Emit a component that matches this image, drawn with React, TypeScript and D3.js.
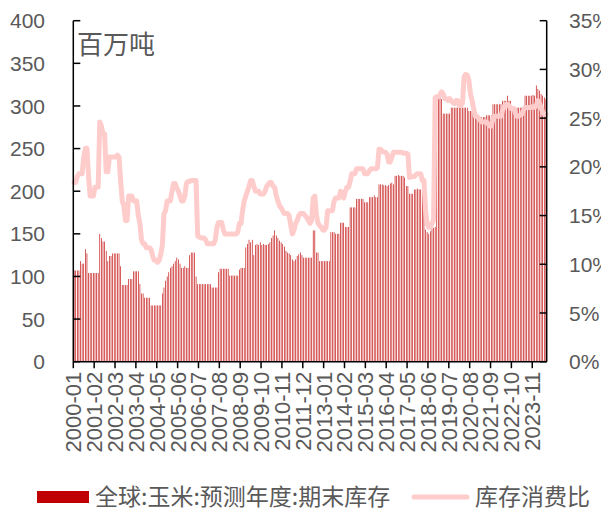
import React from 'react';
import * as d3 from 'd3';

// 全球:玉米:预测年度:期末库存 (百万吨), monthly 2000-01 .. 2024-07
const stockValues: number[] = [
  // 2000
  107,107,107,107,118,115,115,132,127,104,104,104,
  // 2001
  104,104,104,104,150,145,141,141,130,118,124,124,
  // 2002
  127,127,127,127,127,112,90,90,90,90,97,97,
  // 2003
  97,106,106,106,106,91,80,80,75,75,75,75,
  // 2004
  66,66,66,66,66,66,66,80,87,95,100,105,
  // 2005
  110,112,115,118,122,120,115,110,110,112,110,110,
  // 2006
  125,128,128,128,100,91,91,91,91,91,91,91,
  // 2007
  91,91,87,87,87,87,105,109,109,109,109,109,
  // 2008
  109,101,101,101,101,101,101,108,110,110,110,134,
  // 2009
  138,143,140,143,125,137,138,137,140,137,138,137,
  // 2010
  137,138,140,145,148,154,148,145,142,140,138,135,
  // 2011
  130,128,127,125,120,118,120,124,126,128,125,122,
  // 2012
  122,122,122,122,122,154,154,128,128,118,118,118,
  // 2013
  118,118,118,118,152,152,152,150,150,150,163,163,
  // 2014
  163,158,158,158,181,181,181,181,191,191,191,191,
  // 2015
  191,187,187,187,193,193,193,195,193,193,208,208,
  // 2016
  208,207,207,206,207,209,210,208,218,218,219,218,
  // 2017
  218,218,216,206,206,197,197,197,202,202,203,202,
  // 2018
  202,203,202,155,152,150,153,156,157,158,310,308,
  // 2019
  310,308,291,291,291,291,291,298,298,298,298,298,
  // 2020
  298,298,298,298,298,298,294,294,294,287,287,287,
  // 2021
  287,287,287,287,287,289,289,289,289,302,302,302,
  // 2022
  302,302,302,306,306,306,312,306,306,298,298,298,
  // 2023
  298,298,298,298,298,312,312,312,312,312,313,312,
  // 2024
  324,320,318,314,312,310,308,
];

// 库存消费比 (%)
const ratioValues: number[] = [
  // 2000
  18.4,18.4,19.0,19.3,19.3,19.3,21.0,21.9,21.9,19.0,17.0,17.0,
  // 2001
  17.0,17.9,17.9,17.9,24.6,24.2,23.4,23.4,19.5,19.5,21.0,21.0,
  // 2002
  21.0,21.0,21.0,21.2,21.0,18.6,16.5,16.0,14.5,14.5,17.0,17.0,
  // 2003
  17.0,16.5,16.5,16.5,15.0,14.2,12.5,12.1,12.1,11.7,11.7,11.7,
  // 2004
  11.5,10.8,10.4,10.4,10.2,10.4,11.0,12.0,15.2,15.5,16.5,16.5,
  // 2005
  16.5,17.5,18.3,18.3,17.8,17.5,17.0,16.5,16.5,17.0,18.3,18.5,
  // 2006
  18.5,18.6,18.6,18.6,18.6,12.9,12.8,12.7,12.7,12.7,12.5,12.1,
  // 2007
  12.1,12.1,12.1,12.1,12.5,13.8,14.3,14.3,14.3,13.5,13.1,13.1,
  // 2008
  13.1,13.1,13.1,13.1,13.1,13.1,13.3,14.2,14.2,15.5,16.5,17.0,
  // 2009
  17.5,18.0,18.6,18.6,18.0,17.5,17.5,17.5,17.2,17.2,17.2,17.5,
  // 2010
  18.0,18.2,18.4,18.4,18.0,17.9,17.0,16.5,16.0,15.8,15.5,15.2,
  // 2011
  15.2,15.2,15.0,14.0,13.1,13.5,14.2,14.5,15.0,15.2,15.2,15.2,
  // 2012
  15.0,14.8,14.5,14.2,14.5,16.8,17.0,15.0,14.2,14.0,13.8,13.5,
  // 2013
  13.5,13.8,15.5,15.5,15.5,15.5,16.5,16.8,16.8,16.8,17.5,17.2,
  // 2014
  16.8,17.5,17.9,17.9,18.5,19.3,19.3,19.3,19.8,19.8,19.8,19.8,
  // 2015
  19.8,19.3,19.3,19.3,19.6,19.8,19.8,19.8,19.8,19.9,21.8,21.8,
  // 2016
  21.6,21.5,21.5,21.3,20.5,20.5,21.0,21.5,21.5,21.5,21.5,21.5,
  // 2017
  21.5,21.4,21.4,21.4,21.3,18.9,19.0,19.0,19.0,19.2,19.3,19.3,
  // 2018
  19.3,18.6,18.6,15.5,14.2,13.8,13.8,14.2,14.5,27.1,27.2,27.2,
  // 2019
  27.4,27.7,27.5,27.0,27.0,26.8,27.0,26.8,26.6,26.5,26.8,26.8,
  // 2020
  26.3,26.3,26.5,29.2,29.5,29.4,28.9,27.5,26.8,26.0,25.2,25.2,
  // 2021
  25.0,24.8,24.6,24.6,24.6,24.6,24.4,24.2,24.2,25.0,25.2,25.2,
  // 2022
  25.2,25.2,25.2,25.8,26.2,26.4,26.4,26.3,26.0,26.0,26.0,25.5,
  // 2023
  25.2,25.2,25.3,25.4,25.8,26.1,26.1,26.1,26.1,26.1,26.2,26.1,
  // 2024
  26.3,26.8,26.5,26.1,25.6,25.4,25.4,
];

const leftTicks = [0, 50, 100, 150, 200, 250, 300, 350, 400];
const rightTicks = [0, 5, 10, 15, 20, 25, 30, 35];
const labelEvery = 13;

const months: string[] = stockValues.map((_, i) => {
  const y = 2000 + Math.floor(i / 12);
  const m = (i % 12) + 1;
  return `${y}-${m < 10 ? '0' + m : m}`;
});

const W = 601;
const H = 508;
const X0 = 73.3;
const X1 = 546.7;
const YT = 20.7;
const YB = 361.7;

const BAR_COLOR = '#C00000';
const LINE_COLOR = '#FFCCCC';
const TEXT_COLOR = '#595959';
const FONT = '"Liberation Sans", "Noto Sans CJK SC", sans-serif';
const CJK = '"Noto Sans CJK SC", sans-serif';

export default function App() {
  const xs = d3.scaleBand<string>().domain(months).range([X0, X1]).padding(0);
  const bw = xs.bandwidth();
  const yL = d3.scaleLinear().domain([0, 400]).range([YB, YT]);
  const yR = d3.scaleLinear().domain([0, 35]).range([YB, YT]);

  const line = d3
    .line<number>()
    .x((_, i) => (xs(months[i]) as number) + bw / 2)
    .y((d) => yR(d));

  const tickIdx = months.map((_, i) => i).filter((i) => i % labelEvery === 0);

  return (
    <svg
      width={W}
      height={H}
      style={{ position: 'absolute', left: 0, top: 0, background: '#fff' }}
    >
      {/* bars */}
      <g>
        {stockValues.map((v, i) => (
          <rect
            key={i}
            x={(xs(months[i]) as number) + bw * 0.3}
            width={bw * 0.4}
            y={yL(v)}
            height={YB - yL(v)}
            fill={BAR_COLOR}
          />
        ))}
      </g>
      {/* line */}
      <path
        d={line(ratioValues) || ''}
        fill="none"
        stroke={LINE_COLOR}
        strokeWidth={5}
        strokeLinejoin="round"
        strokeLinecap="round"
      />
      {/* axes */}
      <g stroke="#000" strokeWidth={1.5} fill="none">
        <line x1={X0} x2={X0} y1={YT} y2={YB} />
        {leftTicks.map((t) => (
          <line key={t} x1={X0} x2={X0 + 7} y1={yL(t)} y2={yL(t)} />
        ))}
        <line x1={X1} x2={X1} y1={YT} y2={YB} />
        {rightTicks.map((t) => (
          <line key={t} x1={X1 - 7} x2={X1} y1={yR(t)} y2={yR(t)} />
        ))}
        <line x1={X0} x2={X1} y1={YB} y2={YB} />
        {tickIdx.map((i) => (
          <line
            key={i}
            x1={xs(months[i]) as number}
            x2={xs(months[i]) as number}
            y1={YB}
            y2={YB + 6.5}
          />
        ))}
      </g>
      {/* left tick labels */}
      <g fill={TEXT_COLOR} fontFamily={FONT} fontSize={21}>
        {leftTicks.map((t) => (
          <text key={t} x={45} y={yL(t)} dy="0.36em" textAnchor="end">
            {t}
          </text>
        ))}
        {rightTicks.map((t) => (
          <text key={t} x={569} y={yR(t)} dy="0.36em" textAnchor="start">
            {t + '%'}
          </text>
        ))}
        {tickIdx.map((i) => {
          const x = xs(months[i]) as number;
          const y = YB + 10;
          return (
            <text
              key={i}
              transform={`translate(${x},${y}) rotate(-90)`}
              dy="0.36em"
              textAnchor="end"
              fontSize={22}
            >
              {months[i]}
            </text>
          );
        })}
      </g>
      {/* unit label */}
      <text x={77} y={54} fill={TEXT_COLOR} fontFamily={CJK} fontSize={26}>
        百万吨
      </text>
      {/* legend */}
      <g fontFamily={CJK} fontSize={23} fill={TEXT_COLOR}>
        <rect x={37} y={491} width={52} height={12} fill={BAR_COLOR} />
        <text x={95} y={497} dy="0.36em">
          全球:玉米:预测年度:期末库存
        </text>
        <line
          x1={414}
          x2={467}
          y1={497}
          y2={497}
          stroke={LINE_COLOR}
          strokeWidth={5}
          strokeLinecap="round"
        />
        <text x={475} y={497} dy="0.36em">
          库存消费比
        </text>
      </g>
    </svg>
  );
}
